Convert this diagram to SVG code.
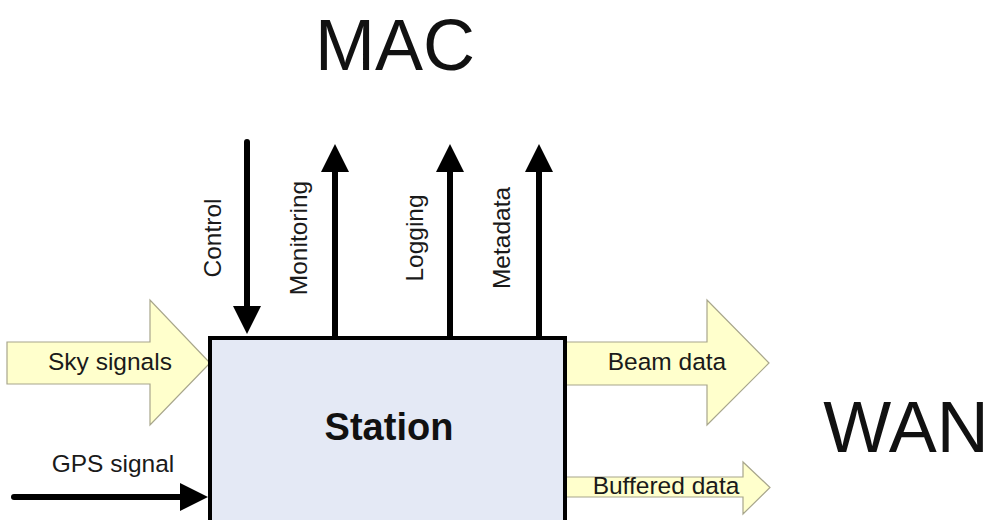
<svg xmlns="http://www.w3.org/2000/svg" width="992" height="520" viewBox="0 0 992 520">
  <style>
    text { font-family: "Liberation Sans", Arial, sans-serif; fill: #111; }
    .title { font-size: 72px; text-anchor: middle; }
    .label { font-size: 24.5px; text-anchor: middle; fill: #1a1a1a; }
    .fat { fill: #ffffcc; stroke: #a8a68c; stroke-width: 1.2; stroke-linejoin: miter; }
    .wire { stroke: #000; stroke-width: 6; fill: none; stroke-linecap: round; }
  </style>
  <defs>
    <marker id="head" viewBox="0 0 28 28" markerWidth="28" markerHeight="28" refX="18" refY="14" orient="auto" markerUnits="userSpaceOnUse">
      <path d="M0,0 L28,14 L0,28 Z" fill="#000"/>
    </marker>
  </defs>

  <rect width="992" height="520" fill="#fff"/>

  <!-- headings -->
  <text class="title" x="395" y="70">MAC</text>
  <text class="title" x="906" y="452">WAN</text>

  <!-- data flows drawn beneath the station block -->
  <g id="connectors">
    <g id="sky-signals">
      <polygon class="fat" points="7,342 150,342 150,300 210,363 150,425 150,384 7,384"/>
      <text class="label" x="110" y="370">Sky signals</text>
    </g>
    <g id="beam-data">
      <polygon class="fat" points="560,342 707,342 707,300 769,363 707,425 707,385 560,385"/>
      <text class="label" x="667" y="370">Beam data</text>
    </g>
    <g id="buffered-data">
      <polygon class="fat" points="560,477 743,477 743,462 770,487.5 743,514 743,497 560,497"/>
      <text class="label" x="666" y="494">Buffered data</text>
    </g>
    <g id="gps-signal">
      <line class="wire" x1="14" y1="497" x2="198" y2="497" marker-end="url(#head)"/>
      <text class="label" x="113" y="472">GPS signal</text>
    </g>
    <g id="control">
      <line class="wire" x1="247" y1="142" x2="247" y2="324" marker-end="url(#head)"/>
      <text class="label" transform="translate(221,238) rotate(-90)">Control</text>
    </g>
    <g id="monitoring">
      <line class="wire" x1="335" y1="338" x2="335" y2="154" marker-end="url(#head)"/>
      <text class="label" transform="translate(307,238) rotate(-90)">Monitoring</text>
    </g>
    <g id="logging">
      <line class="wire" x1="450" y1="338" x2="450" y2="154" marker-end="url(#head)"/>
      <text class="label" transform="translate(423,238) rotate(-90)">Logging</text>
    </g>
    <g id="metadata">
      <line class="wire" x1="539" y1="338" x2="539" y2="154" marker-end="url(#head)"/>
      <text class="label" transform="translate(510,238) rotate(-90)">Metadata</text>
    </g>
  </g>

  <g id="station">
    <rect x="210" y="338" width="355" height="200" fill="#e4e9f5" stroke="#000" stroke-width="4"/>
    <text x="389" y="440" font-size="38" font-weight="bold" text-anchor="middle">Station</text>
  </g>
</svg>
